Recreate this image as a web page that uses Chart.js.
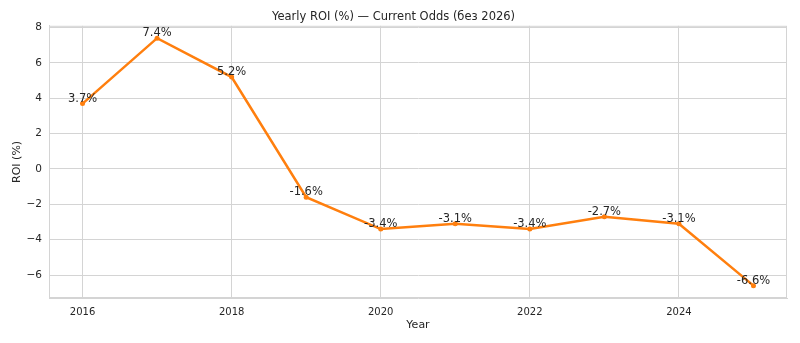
<!DOCTYPE html>
<html>
<head>
<meta charset="utf-8">
<script src="https://cdn.jsdelivr.net/npm/chart.js@4/dist/chart.umd.min.js"></script>
<style>
  html, body { margin: 0; padding: 0; background: #fff; }
  #wrap { width: 800px; height: 343px; }
</style>
</head>
<body>
<div id="wrap"><canvas id="chart"></canvas></div>
<script>
const years = [2016, 2017, 2018, 2019, 2020, 2021, 2022, 2023, 2024, 2025];
const roi = [3.7, 7.4, 5.2, -1.6, -3.4, -3.1, -3.4, -2.7, -3.1, -6.6];
const xTicks = [2016, 2018, 2020, 2022, 2024];
const yTicks = [-6, -4, -2, 0, 2, 4, 6, 8];

const FONT = "'DejaVu Sans', sans-serif";
const TEXT = "#262626";
const GRID = "#d4d4d4";

// top/right spines, like the matplotlib frame
const frame = {
  id: "frame",
  afterDraw(chart) {
    const { ctx, chartArea: a } = chart;
    ctx.save();
    ctx.strokeStyle = GRID;
    ctx.lineWidth = 1;
    ctx.strokeRect(a.left + 0.5, a.top + 0.5, a.right - a.left - 1, a.bottom - a.top - 1);
    ctx.restore();
  },
};

// value labels above each point
const valueLabels = {
  id: "valueLabels",
  afterDatasetsDraw(chart) {
    const { ctx } = chart;
    const meta = chart.getDatasetMeta(0);
    ctx.save();
    ctx.font = "11.5px " + FONT;
    ctx.fillStyle = TEXT;
    ctx.textAlign = "center";
    ctx.textBaseline = "alphabetic";
    meta.data.forEach((pt, i) => {
      ctx.fillText(roi[i].toFixed(1) + "%", pt.x, pt.y - 2);
    });
    ctx.restore();
  },
};

new Chart(document.getElementById("chart"), {
  type: "line",
  data: {
    datasets: [
      {
        data: years.map((y, i) => ({ x: y, y: roi[i] })),
        borderColor: "#ff7f0e",
        backgroundColor: "#ff7f0e",
        borderWidth: 2.5,
        pointRadius: 2.5,
        pointBorderWidth: 0,
        tension: 0,
        fill: false,
      },
    ],
  },
  options: {
    responsive: true,
    maintainAspectRatio: false,
    animation: false,
    layout: { padding: { left: 0, right: 13, top: 0, bottom: 0 } },
    plugins: {
      legend: { display: false },
      tooltip: { enabled: false },
      title: {
        display: true,
        text: "Yearly ROI (%) — Current Odds (без 2026)",
        color: TEXT,
        font: { family: FONT, size: 11.5, weight: "normal" },
        padding: { top: 10, bottom: 2 },
      },
    },
    scales: {
      x: {
        type: "linear",
        min: 2015.55,
        max: 2025.45,
        afterBuildTicks(scale) {
          scale.ticks = xTicks.map((v) => ({ value: v }));
        },
        afterFit(scale) {
          scale.height = 45;
        },
        ticks: {
          color: TEXT,
          font: { family: FONT, size: 10 },
          padding: 8,
          maxRotation: 0,
          callback: (v) => String(v),
        },
        grid: { color: GRID, drawTicks: false },
        border: { color: GRID },
        title: {
          display: true,
          text: "Year",
          color: TEXT,
          font: { family: FONT, size: 11 },
          padding: { top: 0, bottom: 11 },
        },
      },
      y: {
        min: -7.3,
        max: 8.1,
        afterBuildTicks(scale) {
          scale.ticks = yTicks.map((v) => ({ value: v }));
        },
        afterFit(scale) {
          scale.width = 49;
        },
        ticks: {
          color: TEXT,
          font: { family: FONT, size: 10.5 },
          padding: 7,
          callback: (v) => (v < 0 ? "\u2212" + Math.abs(v) : String(v)),
        },
        grid: { color: GRID, drawTicks: false },
        border: { color: GRID },
        title: {
          display: true,
          text: "ROI (%)",
          color: TEXT,
          font: { family: FONT, size: 11 },
          padding: { top: 11, bottom: 0 },
        },
      },
    },
  },
  plugins: [frame, valueLabels],
});
</script>
</body>
</html>
